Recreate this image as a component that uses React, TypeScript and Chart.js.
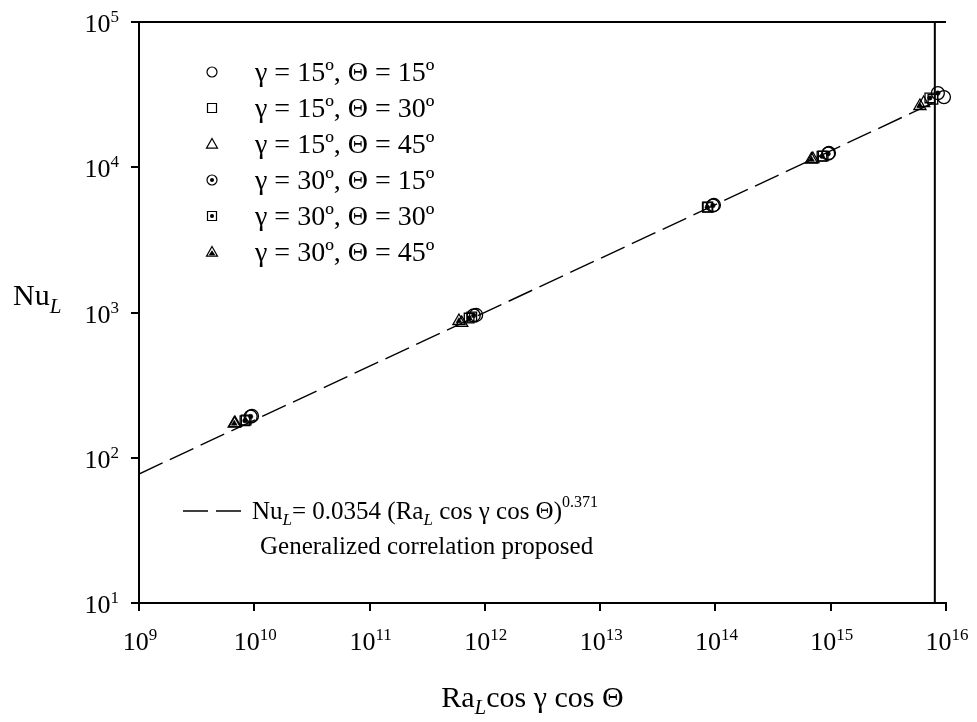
import React, { useEffect, useRef } from 'react';
import { Chart, registerables } from 'chart.js';

Chart.register(...registerables);

// ---- data ----
const s1X = [9.55e9, 8.4e11, 9.7e13, 9.65e14, 9.6e15];
const s1Y = [194, 961, 5495, 12530, 30400];
const s2X = [8.5e9, 7.7e11, 8.6e13, 8.6e14, 7.7e15];
const s2Y = [182, 931, 5320, 11950, 29400];
const s3X = [6.8e9, 6.3e11, 7.0e14, 6.4e15];
const s3Y = [173, 847, 11400, 27700];
const s4X = [9.3e9, 8.0e11, 9.5e13, 9.5e14, 8.5e15];
const s4Y = [192, 955, 5450, 12400, 32400];
const s5X = [8.3e9, 7.3e11, 8.5e13, 8.4e14, 7.24e15];
const s5Y = [180, 916, 5300, 11900, 30000];
const s6X = [6.7e9, 5.96e11, 6.8e14, 5.94e15];
const s6Y = [172, 874, 11300, 26400];

const fitX = [1e9, 8e15];
const fitY = [77.3, 28100];
const vLineX = 8e15;

const xExps = [9, 10, 11, 12, 13, 14, 15, 16];
const yExps = [1, 2, 3, 4, 5];

const legendLabels = [
  'γ = 15º, Θ = 15º',
  'γ = 15º, Θ = 30º',
  'γ = 15º, Θ = 45º',
  'γ = 30º, Θ = 15º',
  'γ = 30º, Θ = 30º',
  'γ = 30º, Θ = 45º',
];
const markerKinds = ['circle', 'square', 'triangle', 'circleDot', 'squareDot', 'triangleDot'];

const FONT = '"Liberation Serif", "Times New Roman", serif';

function drawMarkerPath(ctx: CanvasRenderingContext2D, kind: string, cx: number, cy: number, r: number) {
  ctx.strokeStyle = '#000';
  ctx.fillStyle = '#000';
  ctx.beginPath();
  if (kind.startsWith('circle')) {
    ctx.arc(cx, cy, r, 0, Math.PI * 2);
    ctx.stroke();
    if (kind === 'circleDot') {
      ctx.beginPath();
      ctx.arc(cx, cy, r * 0.4, 0, Math.PI * 2);
      ctx.fill();
    }
  } else if (kind.startsWith('square')) {
    const h = r * 0.9;
    ctx.rect(cx - h, cy - h, 2 * h, 2 * h);
    ctx.stroke();
    if (kind === 'squareDot') {
      ctx.beginPath();
      ctx.arc(cx, cy, r * 0.4, 0, Math.PI * 2);
      ctx.fill();
    }
  } else {
    const h = r * 1.1;
    ctx.moveTo(cx, cy - h);
    ctx.lineTo(cx + h, cy + h * 0.75);
    ctx.lineTo(cx - h, cy + h * 0.75);
    ctx.closePath();
    ctx.stroke();
    if (kind === 'triangleDot') {
      ctx.beginPath();
      ctx.moveTo(cx, cy - h * 0.3);
      ctx.lineTo(cx + h * 0.6, cy + h * 0.6);
      ctx.lineTo(cx - h * 0.6, cy + h * 0.6);
      ctx.closePath();
      ctx.fill();
    }
  }
}

type Seg = { t: string; size: number; italic?: boolean; dy?: number };

function drawRich(ctx: CanvasRenderingContext2D, x: number, y: number, segs: Seg[], align: 'left' | 'center' | 'right') {
  let total = 0;
  const widths = segs.map((s) => {
    ctx.font = `${s.italic ? 'italic ' : ''}${s.size}px ${FONT}`;
    const w = ctx.measureText(s.t).width;
    total += w;
    return w;
  });
  let cx = align === 'left' ? x : align === 'center' ? x - total / 2 : x - total;
  ctx.textAlign = 'left';
  ctx.textBaseline = 'alphabetic';
  ctx.fillStyle = '#000';
  segs.forEach((s, i) => {
    ctx.font = `${s.italic ? 'italic ' : ''}${s.size}px ${FONT}`;
    ctx.fillText(s.t, cx, y + (s.dy || 0));
    cx += widths[i];
  });
}

const pts = (xs: number[], ys: number[]) => xs.map((x, i) => ({ x, y: ys[i] }));

export default function App() {
  const ref = useRef<HTMLCanvasElement>(null);
  useEffect(() => {
    const canvas = ref.current!;
    const seriesX = [s1X, s2X, s3X, s4X, s5X, s6X];
    const seriesY = [s1Y, s2Y, s3Y, s4Y, s5Y, s6Y];
    const outlineStyle: Record<string, string> = {
      circle: 'circle', circleDot: 'circle',
      square: 'rect', squareDot: 'rect',
      triangle: 'triangle', triangleDot: 'triangle',
    };
    const outlineRadius: Record<string, number> = {
      circle: 6.5, circleDot: 6.5, square: 6.8, squareDot: 6.8, triangle: 7, triangleDot: 7,
    };
    const markerDatasets: any[] = [];
    markerKinds.forEach((k, i) => {
      markerDatasets.push({
        type: 'scatter',
        label: legendLabels[i],
        data: pts(seriesX[i], seriesY[i]),
        pointStyle: outlineStyle[k],
        pointRadius: outlineRadius[k],
        pointBorderColor: '#000',
        pointBackgroundColor: 'rgba(0,0,0,0)',
        pointBorderWidth: 1.3,
        showLine: false,
        clip: false,
      });
      if (k.endsWith('Dot')) {
        markerDatasets.push({
          type: 'scatter',
          label: legendLabels[i] + ' dot',
          data: pts(seriesX[i], seriesY[i]),
          pointStyle: k === 'triangleDot' ? 'triangle' : 'circle',
          pointRadius: k === 'triangleDot' ? 3.5 : 2.3,
          pointBorderColor: '#000',
          pointBackgroundColor: '#000',
          pointBorderWidth: 0.5,
          showLine: false,
          clip: false,
        });
      }
    });

    const overlay = {
      id: 'overlay',
      beforeDraw(chart: any) {
        const ctx = chart.ctx;
        ctx.save();
        ctx.fillStyle = '#fff';
        ctx.fillRect(0, 0, chart.width, chart.height);
        ctx.restore();
      },
      afterDraw(chart: any) {
        const ctx: CanvasRenderingContext2D = chart.ctx;
        const xs = chart.scales.x;
        const ys = chart.scales.y;
        const area = chart.chartArea;
        ctx.save();
        // tick labels
        xExps.forEach((e) => {
          const px = xs.getPixelForValue(Math.pow(10, e));
          drawRich(ctx, px + 1, area.bottom + 47, [
            { t: '10', size: 26 },
            { t: String(e), size: 17, dy: -10 },
          ], 'center');
        });
        yExps.forEach((e) => {
          const py = ys.getPixelForValue(Math.pow(10, e));
          drawRich(ctx, area.left - 20, py + 10, [
            { t: '10', size: 26 },
            { t: String(e), size: 17, dy: -10 },
          ], 'right');
        });
        // axis titles
        drawRich(ctx, (area.left + area.right) / 2 - 10, area.bottom + 104, [
          { t: 'Ra', size: 30 },
          { t: 'L', size: 21, italic: true, dy: 7 },
          { t: 'cos γ cos Θ', size: 30 },
        ], 'center');
        drawRich(ctx, 13, 305, [
          { t: 'Nu', size: 30 },
          { t: 'L', size: 21, italic: true, dy: 8 },
        ], 'left');
        // legend
        legendLabels.forEach((lab, i) => {
          const cy = area.top + 50 + i * 36;
          ctx.lineWidth = 1.2;
          drawMarkerPath(ctx, markerKinds[i], area.left + 73, cy, 5);
          drawRich(ctx, area.left + 116, cy + 9, [{ t: lab, size: 28 }], 'left');
        });
        // fit legend
        const ly = area.top + 489;
        ctx.strokeStyle = '#000';
        ctx.lineWidth = 1.3;
        ctx.setLineDash([25, 8]);
        ctx.beginPath();
        ctx.moveTo(area.left + 44, ly);
        ctx.lineTo(area.left + 102, ly);
        ctx.stroke();
        ctx.setLineDash([]);
        drawRich(ctx, area.left + 113, ly + 8, [
          { t: 'Nu', size: 25 },
          { t: 'L', size: 17, italic: true, dy: 6 },
          { t: '= 0.0354 (Ra', size: 25 },
          { t: 'L', size: 17, italic: true, dy: 6 },
          { t: ' cos γ cos Θ)', size: 25 },
          { t: '0.371', size: 16, dy: -12 },
        ], 'left');
        drawRich(ctx, area.left + 121, ly + 43, [{ t: 'Generalized correlation proposed', size: 25 }], 'left');
        ctx.restore();
      },
    };

    const axisCommon = {
      type: 'logarithmic' as const,
      grid: { display: true, drawOnChartArea: false, drawTicks: true, tickLength: 8, color: '#000', lineWidth: 2 },
      border: { display: true, color: '#000', width: 2 },
      ticks: { display: false },
    };

    const chart = new Chart(canvas, {
      type: 'scatter',
      data: {
        datasets: [
          {
            type: 'line' as const,
            label: 'fit',
            data: pts(fitX, fitY),
            borderColor: '#000',
            borderWidth: 1.4,
            borderDash: [26, 8],
            pointRadius: 0,
            fill: false,
            tension: 0,
          },
          {
            type: 'line' as const,
            label: 'vline',
            data: [{ x: vLineX, y: 10 }, { x: vLineX, y: 1e5 }],
            borderColor: '#000',
            borderWidth: 2,
            pointRadius: 0,
            fill: false,
          },
          {
            type: 'line' as const,
            label: 'top',
            data: [{ x: 1e9, y: 1e5 }, { x: 1e16, y: 1e5 }],
            borderColor: '#000',
            borderWidth: 2,
            pointRadius: 0,
            fill: false,
            clip: false,
          },
          ...markerDatasets,
        ] as any,
      },
      options: {
        responsive: false,
        animation: false,
        devicePixelRatio: 1,
        layout: { padding: { left: 0, right: 31, top: 22, bottom: 0 } },
        plugins: { legend: { display: false }, tooltip: { enabled: false } },
        scales: {
          x: {
            ...axisCommon,
            position: 'bottom',
            min: 1e9,
            max: 1e16,
            afterBuildTicks: (s: any) => { s.ticks = xExps.map((e) => ({ value: Math.pow(10, e) })); },
            afterFit: (s: any) => { s.height = 119; },
          },
          y: {
            ...axisCommon,
            position: 'left',
            min: 10,
            max: 1e5,
            afterBuildTicks: (s: any) => { s.ticks = yExps.map((e) => ({ value: Math.pow(10, e) })); },
            afterFit: (s: any) => { s.width = 139; },
          },
        } as any,
      },
      plugins: [overlay],
    });
    return () => chart.destroy();
  }, []);

  return (
    <div style={{ position: 'fixed', left: 0, top: 0, width: 977, height: 722, background: '#fff' }}>
      <canvas ref={ref} width={977} height={722} style={{ width: 977, height: 722, display: 'block' }} />
    </div>
  );
}
